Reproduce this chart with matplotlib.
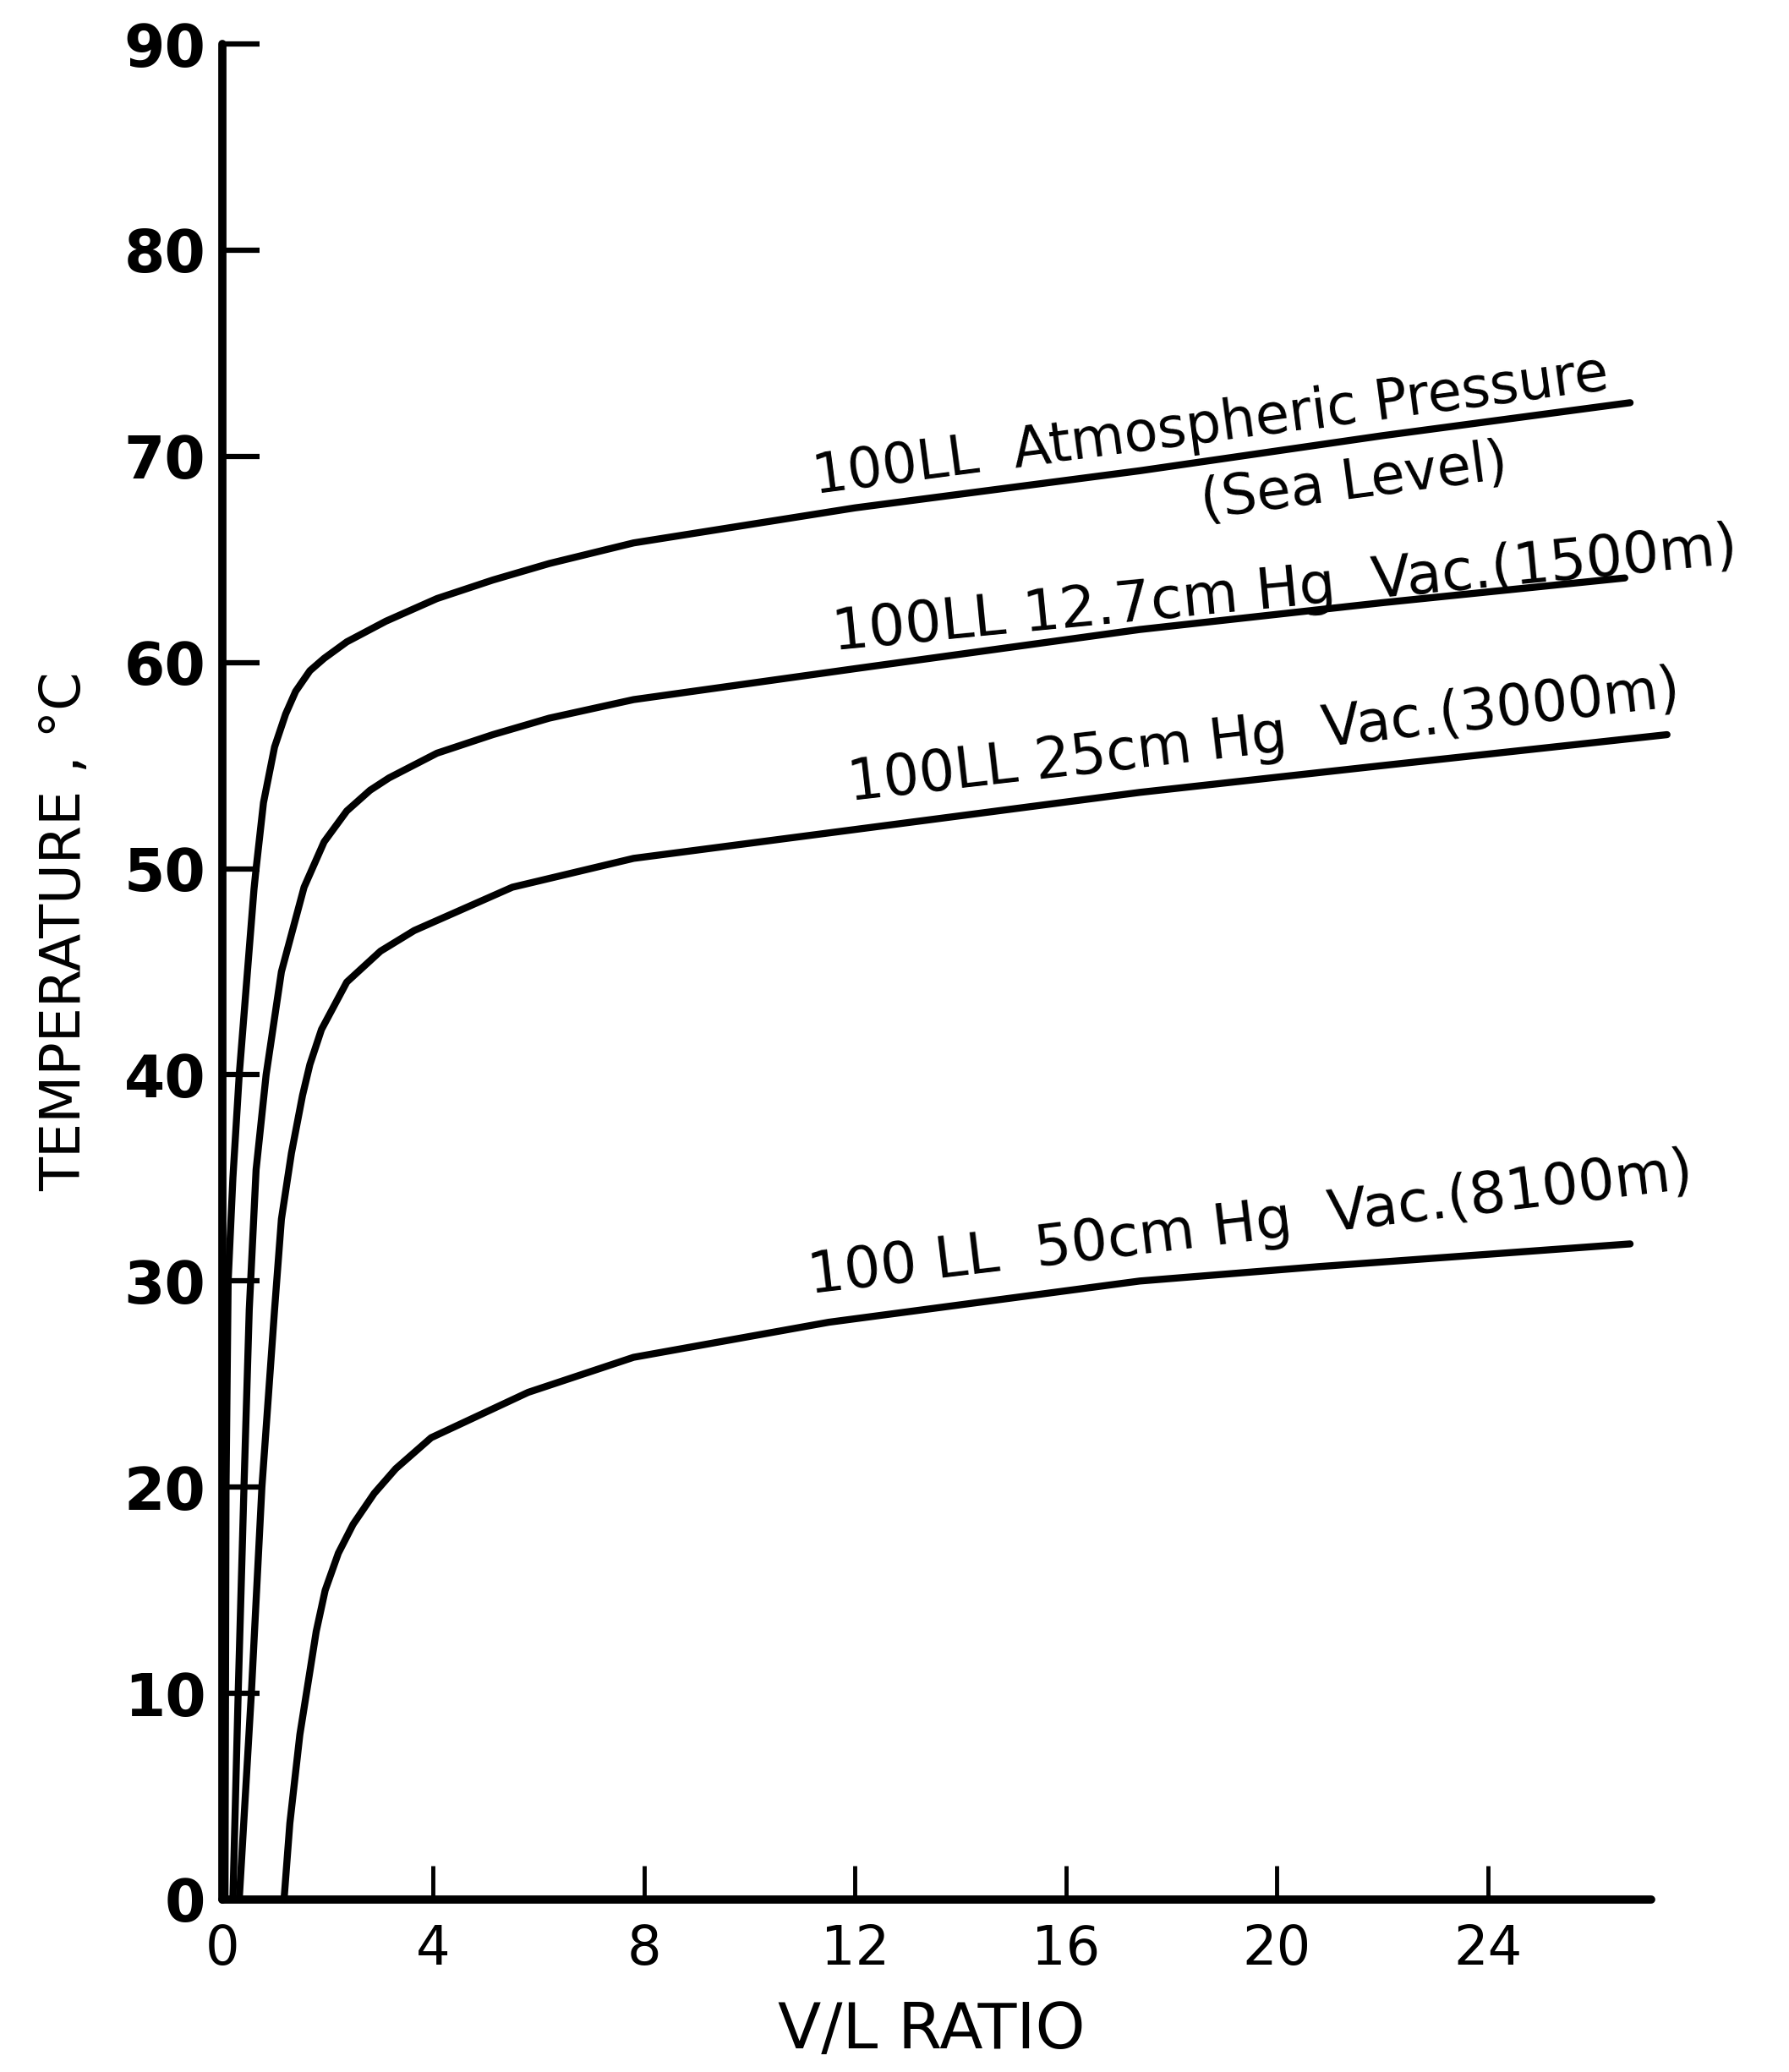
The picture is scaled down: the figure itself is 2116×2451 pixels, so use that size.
import matplotlib
matplotlib.use("Agg")
import matplotlib.pyplot as plt

# ---- data ----
vl_atm = [0.05, 0.06, 0.07, 0.11, 0.2, 0.32, 0.6, 0.64, 0.78, 0.99, 1.2, 1.39, 1.66, 1.93,
          2.36, 3.1, 4.07, 5.13, 6.2, 7.8, 12.0, 17.4, 22.0, 26.7]
t_atm = [0, 10, 20, 30, 35, 40, 49, 50, 53.2, 55.9, 57.5, 58.6, 59.6, 60.2,
         61.0, 62.0, 63.1, 64.0, 64.8, 65.8, 67.5, 69.3, 71.0, 72.6]

vl_127 = [0.2, 0.3, 0.41, 0.51, 0.64, 0.83, 1.12, 1.55, 1.93, 2.36, 2.8, 3.16, 4.07,
          5.13, 6.2, 7.8, 12.0, 17.4, 22.0, 26.6]
t_127 = [0, 10, 20, 28.6, 35.4, 40, 45.0, 49.1, 51.3, 52.8, 53.8, 54.4, 55.6,
         56.5, 57.3, 58.2, 59.7, 61.6, 62.9, 64.1]

vl_25 = [0.32, 0.55, 0.75, 0.99, 1.12, 1.31, 1.52, 1.66, 1.88, 2.36, 3.0, 3.64, 5.5,
         7.8, 12.0, 17.4, 22.0, 27.4]
t_25 = [0, 10, 20, 28.6, 33.0, 36.2, 39.0, 40.5, 42.2, 44.5, 46.0, 47.0, 49.1,
        50.5, 51.9, 53.7, 55.0, 56.5]

vl_50 = [1.17, 1.28, 1.47, 1.65, 1.78, 1.95, 2.2, 2.48, 2.88, 3.29, 3.96, 5.8, 7.8,
         11.5, 17.4, 20.8, 26.7]
t_50 = [0, 3.7, 8.0, 10.9, 13.0, 15.0, 16.8, 18.2, 19.7, 20.9, 22.4, 24.6, 26.3,
        28.0, 30.0, 30.7, 31.8]

x_ticks = [0, 4, 8, 12, 16, 20, 24]
y_ticks = [0, 10, 20, 30, 40, 50, 60, 70, 80, 90]

labels = ["100LL  Atmospheric Pressure", "(Sea Level)",
          "100LL 12.7cm Hg  Vac.(1500m)", "100LL 25cm Hg  Vac.(3000m)",
          "100 LL  50cm Hg  Vac.(8100m)"]

plt.rcParams['font.family'] = ['DejaVu Sans']

W, H = 2116, 2451
fig = plt.figure(figsize=(W / 100, H / 100), dpi=100)
fig.patch.set_facecolor('white')
ax = fig.add_axes([263 / W, (H - 2247) / H, (1953 - 263) / W, (2247 - 52) / H])
ax.set_xlim(0, 27.1)
ax.set_ylim(0, 90)

lw = 6
for xs, ys in [(vl_atm, t_atm), (vl_127, t_127), (vl_25, t_25), (vl_50, t_50)]:
    ax.plot(xs, ys, color='black', lw=lw, solid_capstyle='round',
            solid_joinstyle='round', clip_on=False)

for s in ['top', 'right']:
    ax.spines[s].set_visible(False)
for s in ['left', 'bottom']:
    ax.spines[s].set_linewidth(7)
    ax.spines[s].set_color('black')
    ax.spines[s].set_capstyle('round')

ax.set_xticks(x_ticks)
ax.set_xticklabels([str(v) for v in x_ticks])
ax.set_yticks(y_ticks)
ax.set_yticklabels([str(v) for v in y_ticks])
ax.tick_params(axis='y', direction='in', length=32, width=4.5, labelsize=50, pad=14)
ax.tick_params(axis='x', direction='in', length=29, width=3.5, labelsize=46, pad=20)
for t in ax.get_yticklabels():
    t.set_fontweight('bold')

fig.text(77 / W, 1 - 1102 / H, "TEMPERATURE , °C", rotation=90, ha='center',
         va='center', fontsize=47)
fig.text(1102 / W, 1 - 2403 / H, "V/L RATIO", ha='center', va='center', fontsize=54)

# curve labels (baseline-left anchors, angles and sizes)
label_pos = [(11.25, 68.2, 7.5, 47), (18.6, 67.0, 7.5, 47), (11.6, 60.6, 5.5, 49),
             (11.9, 53.3, 6.5, 48), (11.15, 29.4, 6.8, 49)]
for txt, (lx, ly, rot, fs) in zip(labels, label_pos):
    ax.text(lx, ly, txt, fontsize=fs, rotation=rot, rotation_mode='anchor',
            ha='left', va='baseline', color='black')

fig.savefig("out.png", dpi=100, facecolor='white')
